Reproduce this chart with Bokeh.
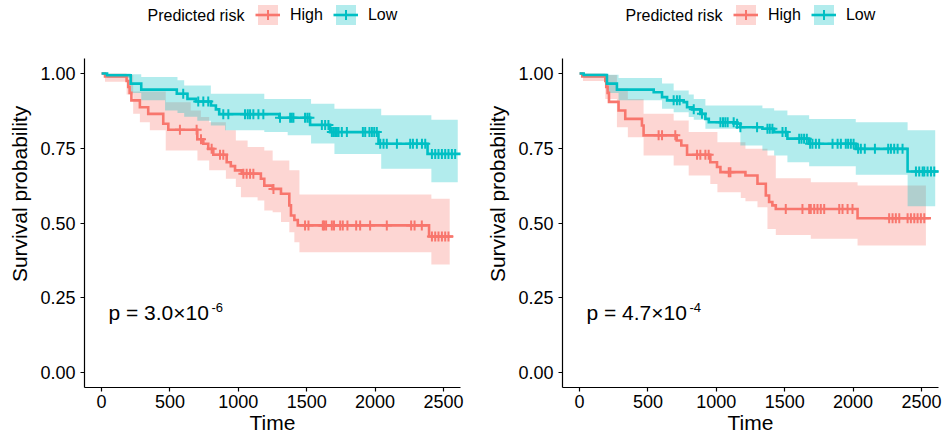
import numpy as np
from bokeh.plotting import figure
from bokeh.layouts import row
from bokeh.models import FixedTicker, NumeralTickFormatter, Label, Legend, LegendItem, Range1d
from bokeh.embed import file_html
from bokeh.resources import INLINE

RED = "#F8766D"
TEAL = "#00BFC4"
FONT = "Liberation Sans"

groups = ["High", "Low"]
legend_title = "Predicted risk"
x_ticks = [0, 500, 1000, 1500, 2000, 2500]
y_ticks = [0, 0.25, 0.5, 0.75, 1.0]

# ---------------- Left panel ----------------
L_high_t = [0, 25, 183, 195, 205, 218, 280, 341, 451, 488, 700, 744, 780, 817, 915, 945, 976, 1025,
            1165, 1190, 1251, 1312, 1373, 1385, 1410, 1435, 2395]
L_high_s = [1.0, 0.99, 0.975, 0.955, 0.935, 0.91, 0.887, 0.865, 0.832, 0.812, 0.78, 0.765, 0.748, 0.728,
            0.703, 0.69, 0.676, 0.665, 0.648, 0.625, 0.614, 0.598, 0.559, 0.525, 0.51, 0.492, 0.455]
L_high_end = 2570
L_high_cens = [573, 695, 727, 805, 866, 890, 1037, 1061, 1086, 1110, 1257, 1488, 1513, 1618, 1627, 1642,
               1684, 1700, 1745, 1764, 1798, 1862, 1891, 1964, 2086, 2264, 2289, 2342, 2416, 2440, 2464,
               2489, 2513, 2537]
L_high_ci_t = [0, 25, 183, 231, 280, 353, 469, 652, 701, 726, 787, 909, 982, 1019, 1068, 1141, 1190,
               1251, 1312, 1373, 1410, 1447, 2412]
L_high_lo = [1.0, 0.972, 0.93, 0.865, 0.837, 0.81, 0.742, 0.742, 0.709, 0.709, 0.676, 0.648, 0.62, 0.586,
             0.586, 0.575, 0.542, 0.536, 0.503, 0.469, 0.436, 0.402, 0.361]
L_high_hi = [1.0, 1.0, 0.995, 0.94, 0.94, 0.94, 0.904, 0.876, 0.876, 0.854, 0.837, 0.81, 0.776, 0.776,
             0.754, 0.754, 0.742, 0.709, 0.709, 0.676, 0.676, 0.595, 0.581]
L_high_ci_end = 2546

L_low_t = [0, 40, 213, 290, 550, 628, 690, 800, 836, 860, 1300, 1525, 1671, 2025, 2384]
L_low_s = [1.0, 0.994, 0.966, 0.946, 0.932, 0.915, 0.906, 0.893, 0.88, 0.864, 0.852, 0.828, 0.804,
           0.765, 0.731]
L_low_end = 2640
L_low_cens = [597, 707, 744, 780, 890, 927, 1049, 1069, 1086, 1110, 1147, 1183, 1305, 1379, 1391, 1403,
              1488, 1505, 1520, 1611, 1635, 1659, 1684, 1696, 1708, 1721, 1733, 1757, 1794, 1911, 1928,
              1959, 1977, 1994, 2013, 2038, 2062, 2086, 2160, 2257, 2277, 2306, 2343, 2367, 2416, 2440,
              2464, 2489, 2513, 2537, 2562, 2586]
L_low_ci_t = [0, 40, 213, 290, 464, 555, 604, 700, 799, 903, 1190, 1361, 1532, 1703, 2045, 2412]
L_low_lo = [1.0, 0.985, 0.935, 0.91, 0.876, 0.868, 0.855, 0.842, 0.826, 0.81, 0.804, 0.793, 0.766,
            0.731, 0.681, 0.636]
L_low_hi = [1.0, 1.0, 0.997, 0.988, 0.988, 0.977, 0.96, 0.96, 0.932, 0.932, 0.915, 0.915, 0.899, 0.882,
            0.86, 0.845]
L_low_ci_end = 2605
L_pval = "p = 3.0×10"
L_pexp = "-6"

# ---------------- Right panel ----------------
R_high_t = [0, 20, 188, 195, 205, 215, 285, 334, 456, 468, 710, 744, 786, 956, 1005, 1030, 1213, 1301,
            1362, 1386, 1410, 1435, 2033]
R_high_s = [1.0, 0.99, 0.975, 0.955, 0.935, 0.905, 0.876, 0.848, 0.826, 0.793, 0.776, 0.759, 0.728,
            0.703, 0.687, 0.67, 0.659, 0.631, 0.592, 0.57, 0.559, 0.547, 0.516]
R_high_end = 2570
R_high_cens = [578, 603, 700, 859, 883, 920, 944, 1091, 1103, 1508, 1630, 1679, 1691, 1716, 1740, 1764,
               1789, 1899, 1923, 1960, 1996, 2264, 2289, 2313, 2338, 2399, 2423, 2448, 2472, 2496, 2521]
R_high_ci_t = [0, 25, 188, 273, 353, 468, 688, 798, 956, 1008, 1179, 1213, 1301, 1374, 1435, 1691, 2033]
R_high_lo = [1.0, 0.975, 0.915, 0.82, 0.787, 0.726, 0.692, 0.659, 0.63, 0.603, 0.584, 0.573, 0.553,
             0.48, 0.46, 0.447, 0.425]
R_high_hi = [1.0, 1.0, 0.995, 0.95, 0.915, 0.865, 0.843, 0.804, 0.804, 0.77, 0.77, 0.748, 0.748, 0.726,
             0.65, 0.636, 0.625]
R_high_ci_end = 2533

R_low_t = [0, 30, 200, 273, 542, 603, 640, 761, 786, 822, 883, 920, 945, 1152, 1176, 1337, 1423, 1520,
           1679, 2020, 2399]
R_low_s = [1.0, 0.995, 0.966, 0.946, 0.937, 0.921, 0.91, 0.904, 0.887, 0.88, 0.865, 0.848, 0.837, 0.832,
           0.82, 0.815, 0.804, 0.782, 0.765, 0.748, 0.672]
R_low_end = 2643
R_low_cens = [688, 712, 732, 835, 895, 1030, 1049, 1066, 1083, 1127, 1152, 1176, 1298, 1374, 1391, 1410,
              1484, 1508, 1606, 1623, 1642, 1662, 1686, 1703, 1728, 1752, 1850, 1887, 1911, 1947, 1964,
              1984, 2004, 2037, 2057, 2086, 2160, 2257, 2277, 2301, 2326, 2362, 2460, 2484, 2509, 2521,
              2545, 2570, 2594]
R_low_ci_t = [0, 30, 200, 285, 603, 688, 798, 835, 920, 1176, 1337, 1423, 1520, 1679, 2020, 2399]
R_low_lo = [1.0, 0.985, 0.935, 0.91, 0.882, 0.87, 0.854, 0.845, 0.815, 0.759, 0.742, 0.726, 0.703, 0.69,
            0.661, 0.556]
R_low_hi = [1.0, 1.0, 0.996, 0.985, 0.966, 0.943, 0.93, 0.915, 0.893, 0.893, 0.884, 0.876, 0.86, 0.848,
            0.837, 0.81]
R_low_ci_end = 2601
R_pval = "p = 4.7×10"
R_pexp = "-4"

# layout: plotting area spans from the top of the canvas (legend row lives inside it),
# the panel itself (y from -0.05 to 1.05) occupies the lower 329 px
FIG_H = 441
BOTTOM = 54
FRAME_H = FIG_H - BOTTOM
PANEL_H = 329
Y0, Y1 = -0.05, 1.05
Y_TOP = Y0 + (Y1 - Y0) * FRAME_H / PANEL_H


def stairs(t, v, end):
    xs, ys = [], []
    for i in range(len(t)):
        t1 = t[i + 1] if i + 1 < len(t) else end
        xs += [t[i], t1]
        ys += [v[i], v[i]]
    return xs, ys


def surv_at(t, s, q):
    idx = np.searchsorted(np.asarray(t), np.asarray(q), side="right") - 1
    return list(np.asarray(s)[idx])


def make_panel(curves, pval, pexp, width, border_left, border_right):
    p = figure(width=width, height=FIG_H, min_border_left=border_left,
               min_border_right=border_right, min_border_top=0, min_border_bottom=BOTTOM,
               x_range=Range1d(-125, 2625), y_range=Range1d(Y0, Y_TOP),
               output_backend="svg", toolbar_location=None)
    p.outline_line_color = None
    p.grid.visible = False
    p.background_fill_color = "white"
    p.border_fill_color = "white"

    bands, lines, marks = [], [], []
    for (t, s, end, cens, ct, lo, hi, cend, color) in curves:
        bx, blo = stairs(ct, lo, cend)
        _, bhi = stairs(ct, hi, cend)
        bands.append(p.varea(x=bx, y1=blo, y2=bhi, fill_color=color, fill_alpha=0.3))
    for (t, s, end, cens, ct, lo, hi, cend, color) in curves:
        lx, ly = stairs(t, s, end)
        lines.append(p.line(lx, ly, line_color=color, line_width=2.6, line_join="miter"))
    for (t, s, end, cens, ct, lo, hi, cend, color) in curves:
        marks.append(p.scatter(cens, surv_at(t, s, cens), marker="cross", size=10,
                               line_color=color, line_width=2))

    xa, ya = p.xaxis[0], p.yaxis[0]
    xa.ticker = FixedTicker(ticks=x_ticks)
    ya.ticker = FixedTicker(ticks=y_ticks)
    ya.formatter = NumeralTickFormatter(format="0.00")
    ya.bounds = (Y0, Y1)
    xa.axis_label = "Time"
    ya.axis_label = "Survival probability"
    for ax in (xa, ya):
        ax.axis_line_color = "black"
        ax.axis_line_width = 1.2
        ax.major_tick_line_color = "black"
        ax.major_tick_line_width = 1.2
        ax.major_tick_out = 4
        ax.major_tick_in = 0
        ax.minor_tick_line_color = None
        ax.major_label_text_font = FONT
        ax.major_label_text_font_size = "18px"
        ax.major_label_text_color = "black"
        ax.axis_label_text_font = FONT
        ax.axis_label_text_font_size = "21px"
        ax.axis_label_text_font_style = "normal"
        ax.axis_label_text_color = "black"
    xa.major_label_standoff = 3
    xa.axis_label_standoff = 0
    ya.major_label_standoff = 5
    ya.axis_label_standoff = 6

    p.add_layout(Label(x=50, y=0.2, text=pval, text_font=FONT, text_font_size="21px",
                       text_baseline="middle", text_color="black"))
    p.add_layout(Label(x=50, y=0.2, x_offset=103, y_offset=5, text=pexp, text_font=FONT,
                       text_font_size="13px", text_baseline="middle", text_color="black"))

    # legend row: title label + horizontal keys, above the panel
    p.add_layout(Label(x=-125, y=Y_TOP, x_offset=63, y_offset=-14.5, text=legend_title,
                       text_font=FONT, text_font_size="16px", text_baseline="middle",
                       text_color="black"))
    items = [LegendItem(label=groups[i], renderers=[bands[i], lines[i], marks[i]]) for i in range(2)]
    leg = Legend(items=items, orientation="horizontal", location=(171, FRAME_H - 27),
                 label_text_font=FONT, label_text_font_size="16px", label_text_color="black",
                 glyph_width=25, glyph_height=25, label_height=25, label_standoff=10, spacing=10,
                 padding=0, margin=0, border_line_color=None, background_fill_alpha=0)
    p.add_layout(leg)
    return p


left = make_panel(
    [(L_high_t, L_high_s, L_high_end, L_high_cens, L_high_ci_t, L_high_lo, L_high_hi, L_high_ci_end, RED),
     (L_low_t, L_low_s, L_low_end, L_low_cens, L_low_ci_t, L_low_lo, L_low_hi, L_low_ci_end, TEAL)],
    L_pval, L_pexp, 472, 84, 12)
right = make_panel(
    [(R_high_t, R_high_s, R_high_end, R_high_cens, R_high_ci_t, R_high_lo, R_high_hi, R_high_ci_end, RED),
     (R_low_t, R_low_s, R_low_end, R_low_cens, R_low_ci_t, R_low_lo, R_low_hi, R_low_ci_end, TEAL)],
    R_pval, R_pexp, 473, 90, 7)

layout = row(left, right)
open("out.html", "w").write(file_html(layout, INLINE))
